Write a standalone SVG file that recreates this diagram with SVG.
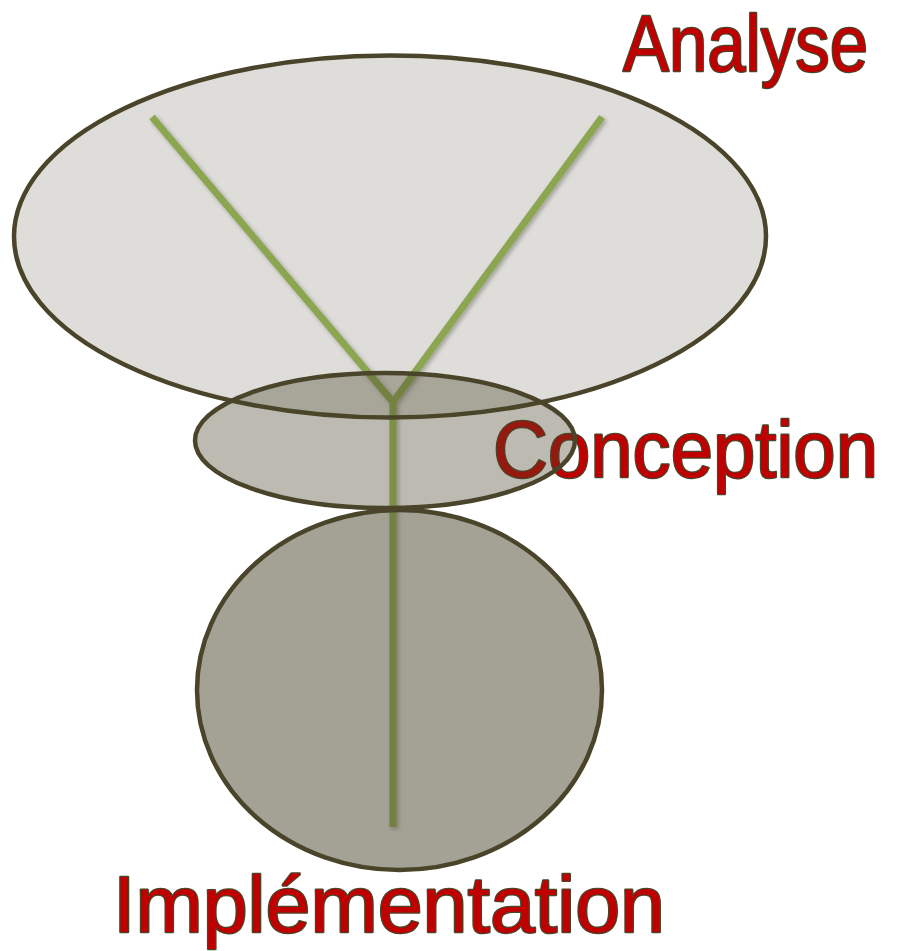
<svg xmlns="http://www.w3.org/2000/svg" width="897" height="951" viewBox="0 0 897 951">
<defs>
<filter id="sh" x="-20%" y="-20%" width="140%" height="140%">
<feDropShadow dx="2" dy="2" stdDeviation="2" flood-color="#000" flood-opacity="0.3"/>
</filter>
</defs>
<style>
.conn{fill:none;stroke:#9BBB59;stroke-width:7;stroke-linejoin:miter;stroke-linecap:butt}
.el{fill:#4A452A;stroke:#4A452A;stroke-width:4.5;stroke-opacity:1}
.lbl{font-family:"Liberation Sans",Arial,sans-serif;font-size:79px;fill:#C00000;stroke:#4A452A;stroke-width:2.5;paint-order:stroke;stroke-linejoin:round}
</style>
<rect width="897" height="951" fill="#fff"/>
<g id="connectors" filter="url(#sh)">
<polyline class="conn" points="152,117 393,402 602,117"/>
<line class="conn" x1="393" y1="401" x2="393" y2="827"/>
</g>
<g id="analyse">
<ellipse class="el" cx="390" cy="236.5" rx="376" ry="181" fill-opacity="0.18"/>
<text class="lbl" x="623" y="71" textLength="245" lengthAdjust="spacingAndGlyphs">Analyse</text>
</g>
<g id="conception">
<text class="lbl" x="493" y="477" textLength="385" lengthAdjust="spacingAndGlyphs">Conception</text>
<ellipse class="el" cx="385" cy="440.5" rx="190" ry="67.5" fill-opacity="0.365"/>
</g>
<g id="implementation">
<ellipse class="el" cx="399.5" cy="690" rx="202.5" ry="180" fill-opacity="0.5"/>
<text class="lbl" x="113" y="932" textLength="552" lengthAdjust="spacingAndGlyphs">Implémentation</text>
</g>
</svg>
